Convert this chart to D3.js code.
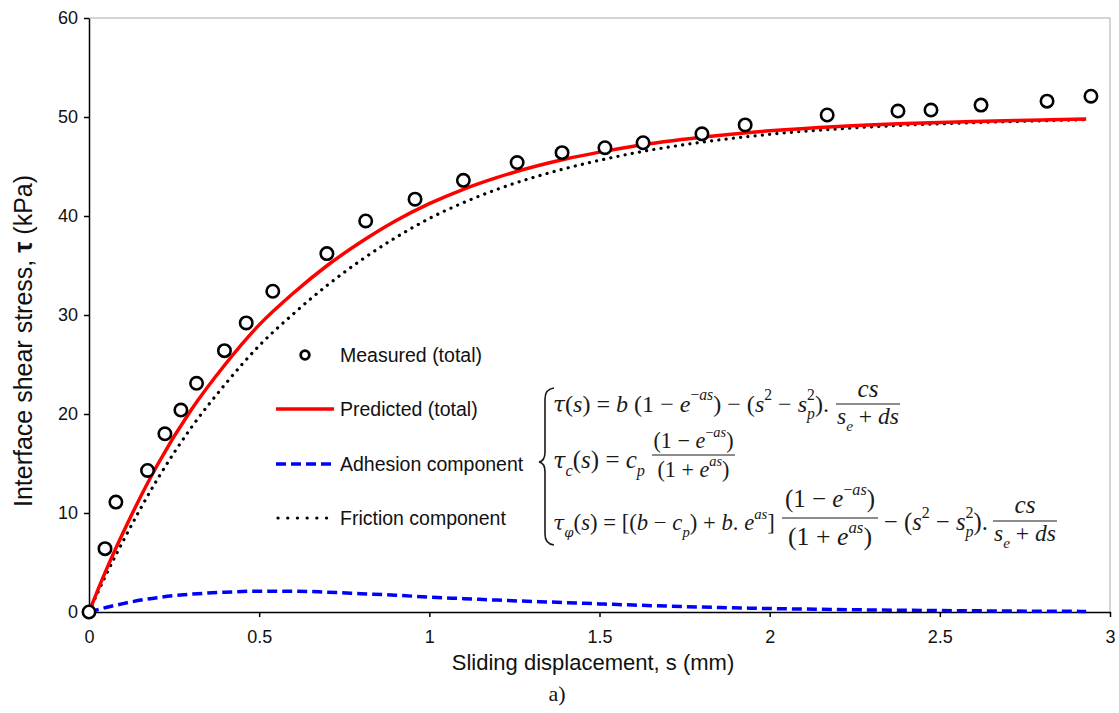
<!DOCTYPE html>
<html>
<head>
<meta charset="utf-8">
<script src="https://cdn.jsdelivr.net/npm/d3@7/dist/d3.min.js"></script>
<style>
  body { margin: 0; background: #fff; }
  svg { display: block; }
  .axis text { font-family: Arial, "Liberation Sans", sans-serif; font-size: 18px; fill: #111; }
  .axis path, .axis line { stroke: #000; stroke-width: 1.5px; }
  .lbl { font-family: Arial, "Liberation Sans", sans-serif; fill: #111; }
  .math { white-space: pre; }
</style>
</head>
<body>
<svg id="chart" width="1119" height="713"></svg>
<script>
// measured points (total)
var measuredS   = [0, 0.047, 0.079, 0.172, 0.223, 0.270, 0.316, 0.398, 0.462, 0.540, 0.699, 0.813, 0.958, 1.100, 1.258, 1.390, 1.516, 1.628, 1.801, 1.928, 2.169, 2.377, 2.474, 2.621, 2.815, 2.944];
var measuredTau = [0, 6.4, 11.1, 14.3, 18.0, 20.4, 23.1, 26.4, 29.2, 32.4, 36.2, 39.5, 41.7, 43.6, 45.4, 46.4, 46.9, 47.4, 48.3, 49.2, 50.2, 50.6, 50.7, 51.2, 51.6, 52.1];

// model curves
var curveS    = [0, 0.05, 0.1, 0.2, 0.3, 0.4, 0.5, 0.6, 0.7, 0.8, 0.9, 1.0, 1.1, 1.2, 1.4, 1.5, 1.6, 1.8, 2.0, 2.2, 2.4, 2.6, 2.8, 2.93];
var predicted = [0, 4.2, 8.0, 14.8, 20.4, 25.0, 29.0, 32.2, 35.0, 37.4, 39.5, 41.25, 42.7, 43.9, 45.75, 46.45, 47.05, 47.95, 48.6, 49.05, 49.35, 49.55, 49.7, 49.8];
var adhesion  = [0, 0.45, 0.85, 1.45, 1.8, 2.0, 2.1, 2.1, 2.0, 1.85, 1.7, 1.5, 1.35, 1.2, 0.95, 0.82, 0.7, 0.5, 0.35, 0.25, 0.17, 0.12, 0.08, 0.06];
var friction  = [0, 3.75, 7.15, 13.35, 18.6, 23.0, 26.9, 30.1, 33.0, 35.55, 37.8, 39.75, 41.35, 42.7, 44.8, 45.63, 46.35, 47.45, 48.25, 48.8, 49.18, 49.43, 49.62, 49.74];

var xTicks = [0, 0.5, 1, 1.5, 2, 2.5, 3];
var yTicks = [0, 10, 20, 30, 40, 50, 60];

var legendNames = ["Measured (total)", "Predicted (total)", "Adhesion component", "Friction component"];

var svg = d3.select("#chart");
var x = d3.scaleLinear().domain([0, 3]).range([89, 1110]);
var y = d3.scaleLinear().domain([0, 60]).range([612, 18]);

// light frame on top and right
svg.append("path")
   .attr("d", "M" + x(0) + "," + y(60) + "H" + x(3) + "V" + y(0))
   .attr("fill", "none").attr("stroke", "#c8c8c8").attr("stroke-width", 1.5);

svg.append("g").attr("class", "axis")
   .attr("transform", "translate(0," + y(0) + ")")
   .call(d3.axisBottom(x).tickValues(xTicks).tickFormat(d3.format("")).tickSize(5).tickSizeOuter(0).tickPadding(13));

svg.append("g").attr("class", "axis")
   .attr("transform", "translate(" + x(0) + ",0)")
   .call(d3.axisLeft(y).tickValues(yTicks).tickSize(5).tickSizeOuter(0).tickPadding(6));

// axis titles
svg.append("text").attr("class", "lbl")
   .attr("x", 593).attr("y", 670).attr("text-anchor", "middle")
   .attr("font-size", 22).text("Sliding displacement, s (mm)");

var yl = svg.append("text").attr("class", "lbl")
   .attr("transform", "translate(32,341) rotate(-90)")
   .attr("text-anchor", "middle").attr("font-size", 25);
yl.append("tspan").text("Interface shear stress, ");
yl.append("tspan").attr("font-weight", "bold").text("τ");
yl.append("tspan").text(" (kPa)");

svg.append("text")
   .attr("x", 557).attr("y", 701).attr("text-anchor", "middle")
   .attr("font-family", '"Liberation Serif", "Times New Roman", serif')
   .attr("font-size", 22).attr("fill", "#111").text("a)");

// curves
var line = d3.line()
   .x(function (d, i) { return x(curveS[i]); })
   .y(function (d) { return y(d); })
   .curve(d3.curveMonotoneX);

svg.append("path").datum(adhesion)
   .attr("d", line).attr("fill", "none")
   .attr("stroke", "#0000ff").attr("stroke-width", 3.5).attr("stroke-dasharray", "10 5");

svg.append("path").datum(friction)
   .attr("d", line).attr("fill", "none")
   .attr("stroke", "#000").attr("stroke-width", 3.2)
   .attr("stroke-linecap", "round").attr("stroke-dasharray", "0.1 7.2");

svg.append("path").datum(predicted)
   .attr("d", line).attr("fill", "none")
   .attr("stroke", "#ff0000").attr("stroke-width", 3.5);

svg.append("g").selectAll("circle")
   .data(measuredTau).join("circle")
   .attr("cx", function (d, i) { return x(measuredS[i]); })
   .attr("cy", function (d) { return y(d); })
   .attr("r", 6.2)
   .attr("fill", "#fff").attr("stroke", "#000").attr("stroke-width", 2.6);

// legend
var lg = svg.append("g");
var lgY = [355, 409, 464, 518];
lg.append("circle").attr("cx", 305).attr("cy", lgY[0]).attr("r", 4.3)
  .attr("fill", "#fff").attr("stroke", "#000").attr("stroke-width", 2.8);
lg.append("line").attr("x1", 276).attr("x2", 334).attr("y1", lgY[1]).attr("y2", lgY[1])
  .attr("stroke", "#ff0000").attr("stroke-width", 3.5);
lg.append("line").attr("x1", 276).attr("x2", 334).attr("y1", lgY[2]).attr("y2", lgY[2])
  .attr("stroke", "#0000ff").attr("stroke-width", 3.5).attr("stroke-dasharray", "10 5");
lg.append("line").attr("x1", 278).attr("x2", 334).attr("y1", lgY[3]).attr("y2", lgY[3])
  .attr("stroke", "#000").attr("stroke-width", 3.2)
  .attr("stroke-linecap", "round").attr("stroke-dasharray", "0.1 9.6");
lg.selectAll("text.lt").data(legendNames).join("text")
  .attr("class", "lbl lt")
  .attr("x", 340).attr("y", function (d, i) { return lgY[i] + 7; })
  .attr("font-size", 19.5).text(function (d) { return d; });

// equations
var MF = '"Liberation Serif", "Times New Roman", serif';
var GF = '"DejaVu Serif", serif';
var eq = svg.append("g");

function buildMath(g, x0, y0, src, size, anchor) {
  var t = g.append("text").attr("class", "math")
     .attr("x", x0).attr("y", y0)
     .attr("font-family", MF).attr("font-size", size).attr("fill", "#1a1a1a")
     .attr("text-anchor", anchor || "start");
  var shift = 0, i = 0, subW = null;
  function runs(str, fs, dy, dx) {
    var parts = str.match(/[A-Za-z]+|[\u03b1-\u03c9]+|[^A-Za-z\u03b1-\u03c9]+/g) || [];
    var nodes = [];
    parts.forEach(function (p, k) {
      var ts = t.append("tspan").attr("font-size", fs).text(p);
      if (/[A-Za-z]/.test(p[0])) ts.attr("font-style", "italic");
      if (/[\u03b1-\u03c9]/.test(p[0])) ts.attr("font-style", "italic").attr("font-family", GF).attr("font-size", fs * 0.9);
      if (k === 0) {
        if (dy) ts.attr("dy", dy);
        if (dx) ts.attr("dx", dx);
      }
      nodes.push(ts.node());
    });
    return nodes;
  }
  while (i < src.length) {
    var c = src[i];
    if ((c === "^" || c === "_") && src[i + 1] === "{") {
      var end = src.indexOf("}", i);
      var grp = src.slice(i + 2, end);
      var target = c === "^" ? -0.48 * size : 0.3 * size;
      var dx = (c === "^" && subW !== null) ? -subW : null;
      var nodes = runs(grp, size * 0.65, target - shift, dx);
      shift = target;
      subW = c === "_" ? d3.sum(nodes, function (n) { return n.getComputedTextLength(); }) : null;
      i = end + 1;
    } else {
      var j = i;
      while (j < src.length && !((src[j] === "^" || src[j] === "_") && src[j + 1] === "{")) j++;
      runs(src.slice(i, j), size, -shift, null);
      shift = 0; subW = null;
      i = j;
    }
  }
  return t;
}

// build, measure, then rebuild at the size that gives the wanted width
function mathText(g, x0, y0, src, size, width, anchor) {
  var t = buildMath(g, x0, y0, src, size, anchor);
  if (!width) return t;
  var w = t.node().getBBox().width;
  t.remove();
  return buildMath(g, x0, y0, src, size * width / w, anchor);
}

function frac(g, x1, x2, yBar, yNum, yDen, num, den, size, wNum, wDen) {
  var cx = (x1 + x2) / 2;
  g.append("line").attr("x1", x1).attr("x2", x2).attr("y1", yBar).attr("y2", yBar)
   .attr("stroke", "#1a1a1a").attr("stroke-width", 1.2);
  mathText(g, cx, yNum, num, size, wNum, "middle");
  mathText(g, cx, yDen, den, size, wDen, "middle");
}

var fs = 22;
// brace
eq.append("path")
  .attr("d", "M554,388 Q545,389 545,399 L545,452 Q545,461 539,462 Q545,463 545,472 L545,534 Q545,544 554,545")
  .attr("fill", "none").attr("stroke", "#1a1a1a").attr("stroke-width", 1.6);

// line 1
mathText(eq, 553, 412, "τ(s) = b (1 − e^{−as}) − (s^{2} − s_{p}^{2}).", fs, 276);
frac(eq, 836, 900, 404, 397, 424, "cs", "s_{e} + ds", fs, 21, 62);

// line 2
mathText(eq, 553, 468, "τ_{c}(s) = c_{p}", fs, 92);
frac(eq, 652, 735, 455, 448, 477, "(1 − e^{−as})", "(1 + e^{as})", fs, 80, 72);

// line 3
mathText(eq, 553, 530, "τ_{φ}(s) = [(b − c_{p}) + b. e^{as}]", fs, 222);
frac(eq, 782, 878, 518, 507, 545, "(1 − e^{−as})", "(1 + e^{as})", fs, 90, 84);
mathText(eq, 884, 530, "− (s^{2} − s_{p}^{2}).", fs, 104);
frac(eq, 993, 1057, 521, 513, 541, "cs", "s_{e} + ds", fs, 21, 62);
</script>
</body>
</html>
